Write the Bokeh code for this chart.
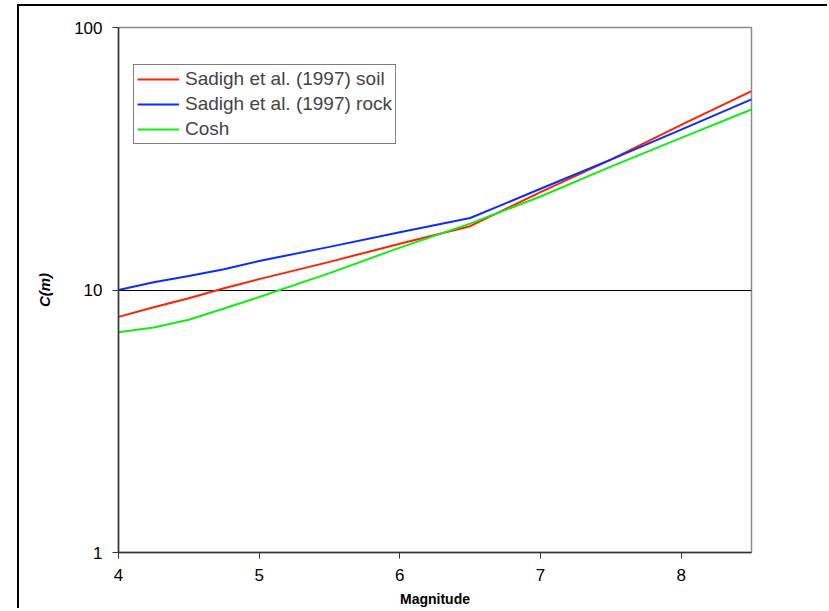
from bokeh.plotting import figure
from bokeh.models import FixedTicker, PrintfTickFormatter, Legend, LegendItem, Range1d
from bokeh.embed import file_html
from bokeh.resources import INLINE

# ---- data ----
magnitude = [4.0, 4.25, 4.5, 4.75, 5.0, 5.5, 6.0, 6.5, 7.0, 7.5, 8.0, 8.5]
soil = [7.9, 8.6, 9.3, 10.15, 11.0, 12.8, 15.0, 17.5, 23.6, 31.4, 42.6, 57.2]
rock = [10.0, 10.7, 11.3, 12.0, 12.9, 14.6, 16.6, 18.8, 24.3, 31.4, 40.8, 53.2]
cosh = [6.9, 7.2, 7.7, 8.5, 9.4, 11.6, 14.5, 17.9, 22.7, 29.5, 38.0, 48.7]
series_names = ["Sadigh et al. (1997) soil", "Sadigh et al. (1997) rock", "Cosh"]
x_ticks = [4, 5, 6, 7, 8]
y_ticks = [1, 10, 100]
x_title = "Magnitude"
y_title = "C(m)"

FONT = "Liberation Sans"

p = figure(width=810, height=604, y_axis_type="log",
           x_range=Range1d(4, 8.5), y_range=Range1d(1, 100),
           output_backend="svg", toolbar_location=None,
           min_border_left=99, min_border_right=78, min_border_top=21, min_border_bottom=58)
p.styles = {"margin-left": "17px", "margin-top": "4px",
            "border-left": "2px solid black", "border-top": "2px solid black"}

p.outline_line_color = "#8c8c8c"
p.outline_line_width = 1.5
p.background_fill_color = "white"
p.border_fill_color = "white"

colors = ["#ff2200", "#0a2cff", "#11ee11"]
renderers = []
for ys, c in zip([soil, rock, cosh], colors):
    r = p.line(magnitude, ys, line_color=c, line_width=2)
    renderers.append(r)

# axes
p.xaxis.ticker = FixedTicker(ticks=x_ticks, minor_ticks=[])
p.yaxis.ticker = FixedTicker(ticks=y_ticks, minor_ticks=[])
p.yaxis.formatter = PrintfTickFormatter(format="%d")
for ax in (p.xaxis[0], p.yaxis[0]):
    ax.major_tick_out = 6
    ax.major_tick_in = 0
    ax.minor_tick_out = 0
    ax.minor_tick_in = 0
    ax.axis_line_color = "#333333"
    ax.axis_line_width = 1.5
    ax.major_tick_line_color = "#333333"
    ax.major_label_text_font = FONT
    ax.major_label_text_font_size = "17px"
    ax.major_label_text_color = "black"
    ax.axis_label_text_font = FONT
    ax.axis_label_text_color = "black"

p.xaxis.axis_label = x_title
p.xaxis.axis_label_text_font_size = "14px"
p.xaxis.axis_label_text_font_style = "bold"
p.xaxis.major_label_standoff = 10
p.xaxis.axis_label_standoff = 7
p.yaxis.axis_label = y_title
p.yaxis.axis_label_text_font_size = "15px"
p.yaxis.axis_label_text_font_style = "bold italic"
p.yaxis.major_label_standoff = 10
p.yaxis.axis_label_standoff = 18

# grid: only the line at 10
p.xgrid.visible = False
p.ygrid.ticker = FixedTicker(ticks=[10])
p.ygrid.grid_line_color = "black"
p.ygrid.grid_line_width = 1

legend = Legend(items=[LegendItem(label=n, renderers=[r]) for n, r in zip(series_names, renderers)],
                location=(15, 408), margin=0, padding=3, spacing=3,
                glyph_width=42, glyph_height=20, label_height=22, label_standoff=6,
                label_text_font=FONT, label_text_font_size="19px",
                border_line_color="black", border_line_width=1,
                background_fill_alpha=1)
p.add_layout(legend, "center")

open("out.html", "w").write(file_html(p, INLINE))
